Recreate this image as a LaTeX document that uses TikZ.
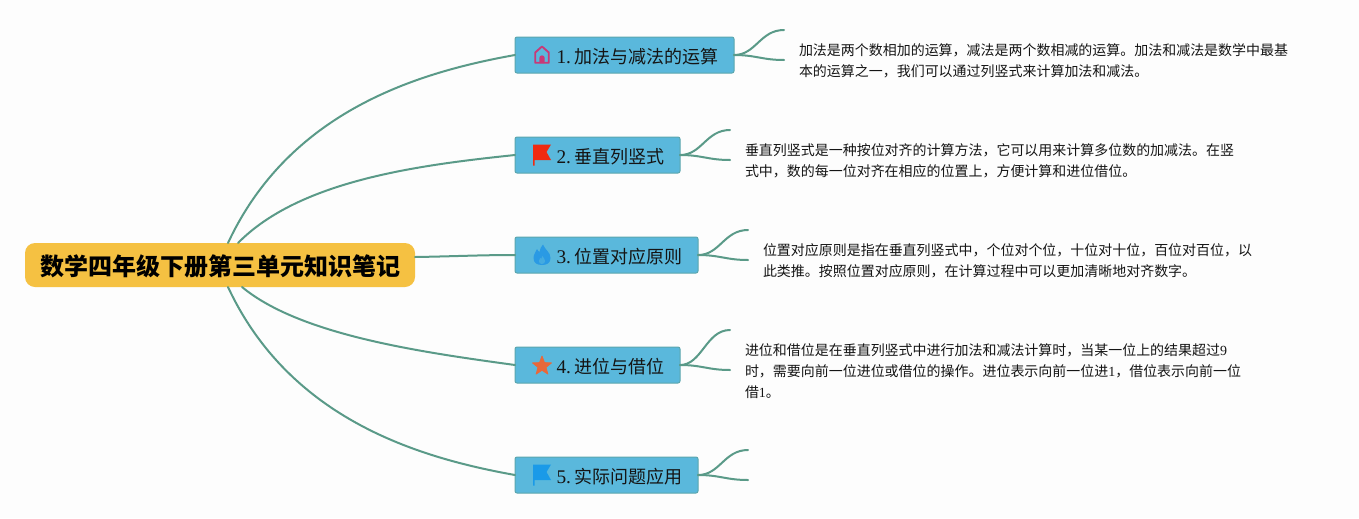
\documentclass[tikz,border=0pt]{standalone}
\usepackage{fontspec}
\setmainfont{Noto Sans CJK SC}
\newfontfamily\latf{Liberation Serif}
\newcommand{\lnum}[1]{{\latf #1}}
\newcommand{\topiclab}[2]{\raisebox{-1.4pt}[\height][\depth]{\lnum{\fontsize{14.5}{16}\selectfont #1}\hspace{2.2pt}#2}}
\usetikzlibrary{calc}
\definecolor{bgc}{HTML}{FDFDFD}
\definecolor{linec}{HTML}{5A9A88}
\definecolor{topicf}{HTML}{5AB8DC}
\definecolor{topicd}{HTML}{5BA6AE}
\definecolor{rootf}{HTML}{F5C142}
\definecolor{inkc}{HTML}{151515}
\definecolor{homec}{HTML}{C83A78}
\definecolor{flagr}{HTML}{F02A10}
\definecolor{flameb}{HTML}{2A9AE4}
\definecolor{starc}{HTML}{E8683A}
\definecolor{flagb}{HTML}{1A9AE8}
\tikzset{
  link/.style={draw=linec,line width=1.5pt,line cap=round},
  rootbox/.style={fill=rootf,rounded corners=7.5pt,anchor=north west,inner sep=0pt,outer sep=0pt,
    minimum width=292.5pt,minimum height=33pt,text=black,font=\fontsize{18}{22}\selectfont\bfseries},
  topic/.style={fill=topicf,draw=topicd,line width=0.75pt,rounded corners=1.5pt,anchor=north west,
    inner xsep=12pt,inner ysep=0pt,outer sep=0pt,minimum height=27pt,align=right,text=inkc,
    font=\fontsize{13.5}{16}\selectfont},
  body/.style={anchor=north west,inner sep=0pt,outer sep=0pt,align=left,text=inkc,
    font=\fontsize{10.48}{15.6}\selectfont},
}
\begin{document}
\begin{tikzpicture}[x=0.75pt,y=-0.75pt]
\useasboundingbox (0,0) rectangle (1359,518);
\fill[bgc] (0,0) rectangle (1359,518);

\node[rootbox] (root) at (25,243) {\raisebox{-1.3pt}[\height][\depth]{数学四年级下册第三单元知识笔记}};
\node[topic,text width=140.25pt] (t1) at (515,37) {\topiclab{1.}{加法与减法的运算}};
\node[topic,text width=99.75pt] (t2) at (515,137) {\topiclab{2.}{垂直列竖式}};
\node[topic,text width=113.25pt] (t3) at (515,237) {\topiclab{3.}{位置对应原则}};
\node[topic,text width=99.75pt] (t4) at (515,347) {\topiclab{4.}{进位与借位}};
\node[topic,text width=113.25pt] (t5) at (515,457) {\topiclab{5.}{实际问题应用}};

\node[body] (b1) at (799,43.5) {加法是两个数相加的运算，减法是两个数相减的运算。加法和减法是数学中最基\\本的运算之一，我们可以通过列竖式来计算加法和减法。};
\node[body] (b2) at (745,144) {垂直列竖式是一种按位对齐的计算方法，它可以用来计算多位数的加减法。在竖\\式中，数的每一位对齐在相应的位置上，方便计算和进位借位。};
\node[body] (b3) at (763,244) {位置对应原则是指在垂直列竖式中，个位对个位，十位对十位，百位对百位，以\\此类推。按照位置对应原则，在计算过程中可以更加清晰地对齐数字。};
\node[body] (b4) at (745,344) {进位和借位是在垂直列竖式中进行加法和减法计算时，当某一位上的结果超过\lnum{9}\\时，需要向前一位进位或借位的操作。进位表示向前一位进\lnum{1}，借位表示向前一位\\借\lnum{1}。};

\coordinate (r1) at ($(root.north west)+(203,0)$);
\coordinate (r2) at ($(root.north west)+(213,0)$);
\coordinate (r3) at ($(root.east)+(0,-8)$);
\coordinate (r4) at ($(root.south west)+(217,0)$);
\coordinate (r5) at ($(root.south west)+(203,0)$);
\draw[link] (r1) .. controls (290,110) and (420,72) .. (t1.west);
\draw[link] (r2) .. controls (300,180) and (420,165) .. (t2.west);
\draw[link] (r3) .. controls (450,256.500) and (480,255) .. (t3.west);
\draw[link] (r4) .. controls (300,335) and (420,352) .. (t4.west);
\draw[link] (r5) .. controls (290,420) and (420,458) .. (t5.west);

\coordinate (e1a) at (784,30); \coordinate (e1b) at (784,60);
\coordinate (e2a) at (730,130); \coordinate (e2b) at (730,160);
\coordinate (e3a) at (748,230); \coordinate (e3b) at (748,260);
\coordinate (e4a) at (730,330); \coordinate (e4b) at (730,370);
\coordinate (e5a) at (748,450); \coordinate (e5b) at (748,480);
\foreach \t/\a/\b in {t1/e1a/e1b,t2/e2a/e2b,t3/e3a/e3b,t4/e4a/e4b,t5/e5a/e5b}{
  \draw[link] (\t.east) .. controls +(22,0) and ($(\a)+(-24,0)$) .. (\a);
  \draw[link] (\t.east) .. controls +(22,0) and ($(\b)+(-22,0)$) .. (\b);
}

% house icon
\begin{scope}[shift={(542,55)}]
  \draw[homec,line width=1.4pt,line join=round,line cap=round] (-6.8,7.8) -- (-6.8,-2.5) -- (0,-8.5) -- (6.8,-2.5) -- (6.8,7.8) -- cycle;
  \fill[homec] (-2.7,8) -- (-2.7,3) arc[start angle=180,end angle=360,radius=2.7] -- (2.7,8) -- cycle;
\end{scope}
% red flag
\begin{scope}[shift={(542,155)}]
  \fill[flagr] (-9,-10.5) -- (9,-10.5) -- (4.5,-3) -- (9,5) -- (-7.5,5) -- (-7.5,10.5) -- (-9,10.5) -- cycle;
\end{scope}
% flame
\begin{scope}[shift={(542,255)}]
  \fill[flameb]
    (1,-10.5) .. controls (3,-5) and (8.5,-3) .. (8.5,3) .. controls (8.5,8) and (5,10) .. (0,10)
    .. controls (-5,10) and (-8.5,8) .. (-8.5,3) .. controls (-8.5,-1) and (-6,-3) .. (-5,-6)
    .. controls (-4,-4) and (-3.5,-3.5) .. (-2.5,-3) .. controls (-2,-6) and (-1,-8.500) .. (1,-10.5) -- cycle;
  \fill[topicf!55!flameb]
    (0.5,1) .. controls (1,3) and (3.2,4) .. (3.2,6) .. controls (3.2,8) and (1.5,9) .. (0,9)
    .. controls (-1.8,9) and (-3.2,8) .. (-3.2,6) .. controls (-3.2,4.8) and (-2.2,3.8) .. (-1.8,3)
    .. controls (-1.4,3.6) and (-1,3.8) .. (-0.7,3.8) .. controls (-0.7,2.6) and (-0.3,1.8) .. (0.5,1) -- cycle;
\end{scope}
% star
\begin{scope}[shift={(542,366)}]
  \fill[starc,draw=starc,line width=0.6pt,line join=round]
    (-90:10) -- (-54:4.2) -- (-18:10) -- (18:4.2) -- (54:10) -- (90:4.2) -- (126:10) -- (162:4.2) -- (198:10) -- (234:4.2) -- cycle;
\end{scope}
% blue flag
\begin{scope}[shift={(542,475)}]
  \fill[flagb] (-9,-10.5) -- (9,-10.5) -- (4.5,-3) -- (9,5) -- (-7.5,5) -- (-7.5,10.5) -- (-9,10.5) -- cycle;
\end{scope}
\end{tikzpicture}
\end{document}
